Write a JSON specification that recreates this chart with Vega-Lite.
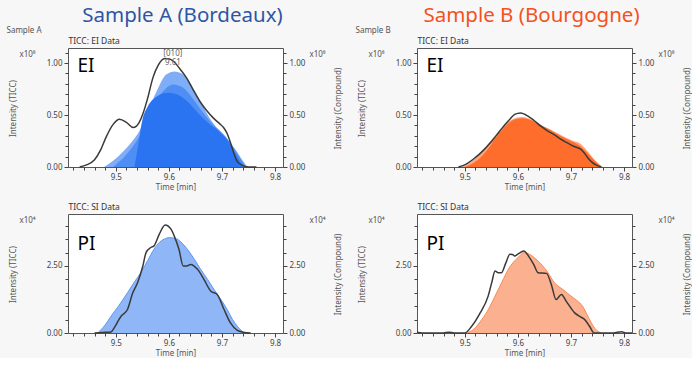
{
  "$schema": "https://vega.github.io/schema/vega-lite/v6.json",
  "background": "#f7f7f7",
  "padding": {"left": 5, "top": 5, "right": 0, "bottom": 0},
  "config": {
    "font": "Noto Sans",
    "view": {"stroke": "#555555", "strokeWidth": 1, "fill": "white"},
    "axis": {"domain": false, "grid": false, "labelFontSize": 8, "labelColor": "#444444", "tickColor": "#444444", "titleFontSize": 8, "titleColor": "#555555", "titleFontWeight": "normal", "labelFont": "Noto Sans", "titleFont": "Noto Sans"},
    "title": {"font": "Noto Sans", "fontWeight": "normal"}
  },
  "columns": 2,
  "spacing": {"row": 47, "column": 134},
  "bounds": "flush",
  "concat": [
    {
      "width": 215, "height": 119,
      "title": {"text": "Sample A (Bordeaux)", "color": "#2f55a5", "fontSize": 20.5, "anchor": "middle", "frame": "group", "dx": 7, "offset": 0},
      "resolve": {"axis": {"x": "independent", "y": "independent"}},
      "data": {"values": [
        {"s":"k","t":9.432,"v":0},{"s":"k","t":9.445,"v":0.02},{"s":"k","t":9.46,"v":0.07},{"s":"k","t":9.472,"v":0.17},{"s":"k","t":9.482,"v":0.29},{"s":"k","t":9.495,"v":0.41},{"s":"k","t":9.507,"v":0.46},{"s":"k","t":9.52,"v":0.43},{"s":"k","t":9.533,"v":0.38},{"s":"k","t":9.543,"v":0.42},{"s":"k","t":9.551,"v":0.51},{"s":"k","t":9.56,"v":0.66},{"s":"k","t":9.57,"v":0.86},{"s":"k","t":9.58,"v":0.98},{"s":"k","t":9.592,"v":1.045},{"s":"k","t":9.601,"v":1.04},{"s":"k","t":9.608,"v":1.02},{"s":"k","t":9.62,"v":0.95},{"s":"k","t":9.633,"v":0.86},{"s":"k","t":9.645,"v":0.75},{"s":"k","t":9.658,"v":0.635},{"s":"k","t":9.67,"v":0.55},{"s":"k","t":9.684,"v":0.47},{"s":"k","t":9.695,"v":0.42},{"s":"k","t":9.703,"v":0.38},{"s":"k","t":9.71,"v":0.32},{"s":"k","t":9.715,"v":0.25},{"s":"k","t":9.722,"v":0.14},{"s":"k","t":9.728,"v":0.06},{"s":"k","t":9.737,"v":0.02},{"s":"k","t":9.75,"v":0},{"s":"k","t":9.765,"v":0},
        {"s":"c1","t":9.478,"v":0},{"s":"c1","t":9.495,"v":0.06},{"s":"c1","t":9.514,"v":0.15},{"s":"c1","t":9.53,"v":0.24},{"s":"c1","t":9.545,"v":0.35},{"s":"c1","t":9.56,"v":0.53},{"s":"c1","t":9.577,"v":0.73},{"s":"c1","t":9.595,"v":0.89},{"s":"c1","t":9.611,"v":0.92},{"s":"c1","t":9.622,"v":0.905},{"s":"c1","t":9.633,"v":0.86},{"s":"c1","t":9.652,"v":0.7},{"s":"c1","t":9.665,"v":0.58},{"s":"c1","t":9.677,"v":0.47},{"s":"c1","t":9.69,"v":0.38},{"s":"c1","t":9.702,"v":0.31},{"s":"c1","t":9.715,"v":0.23},{"s":"c1","t":9.728,"v":0.15},{"s":"c1","t":9.738,"v":0.07},{"s":"c1","t":9.748,"v":0},
        {"s":"c2","t":9.495,"v":0},{"s":"c2","t":9.52,"v":0.12},{"s":"c2","t":9.545,"v":0.3},{"s":"c2","t":9.565,"v":0.52},{"s":"c2","t":9.585,"v":0.7},{"s":"c2","t":9.6,"v":0.78},{"s":"c2","t":9.608,"v":0.795},{"s":"c2","t":9.625,"v":0.77},{"s":"c2","t":9.645,"v":0.66},{"s":"c2","t":9.665,"v":0.52},{"s":"c2","t":9.685,"v":0.4},{"s":"c2","t":9.7,"v":0.33},{"s":"c2","t":9.715,"v":0.24},{"s":"c2","t":9.73,"v":0.12},{"s":"c2","t":9.745,"v":0},
        {"s":"c3","t":9.535,"v":0},{"s":"c3","t":9.542,"v":0.2},{"s":"c3","t":9.55,"v":0.45},{"s":"c3","t":9.56,"v":0.58},{"s":"c3","t":9.575,"v":0.67},{"s":"c3","t":9.59,"v":0.71},{"s":"c3","t":9.6,"v":0.715},{"s":"c3","t":9.615,"v":0.7},{"s":"c3","t":9.635,"v":0.63},{"s":"c3","t":9.655,"v":0.52},{"s":"c3","t":9.675,"v":0.42},{"s":"c3","t":9.695,"v":0.34},{"s":"c3","t":9.71,"v":0.26},{"s":"c3","t":9.725,"v":0.13},{"s":"c3","t":9.74,"v":0}
      ]},
      "layer": [
        {
          "transform": [{"filter": "datum.s == 'c1'"}],
          "mark": {"type": "area", "color": "#80adf7", "interpolate": "monotone"},
          "encoding": {
            "x": {"field": "t", "type": "quantitative", "scale": {"domain": [9.41, 9.815], "nice": false, "zero": false}, "axis": {"orient": "bottom", "values": [9.42,9.44,9.46,9.48,9.5,9.52,9.54,9.56,9.58,9.6,9.62,9.64,9.66,9.68,9.7,9.72,9.74,9.76,9.78,9.8], "labels": false, "tickSize": 3, "title": null}},
            "y": {"field": "v", "type": "quantitative", "scale": {"domain": [0, 1.145], "nice": false}, "axis": {"orient": "right", "values": [0.1,0.2,0.3,0.4,0.6,0.7,0.8,0.9,1.1], "labels": false, "tickSize": 3, "title": "x10⁸", "titleAngle": 0, "titleX": 34, "titleY": 6, "titleAlign": "center", "titleBaseline": "middle"}}
          }
        },
        {
          "transform": [{"filter": "datum.s == 'c2'"}],
          "mark": {"type": "area", "color": "#4f8ff5", "interpolate": "monotone"},
          "encoding": {
            "x": {"field": "t", "type": "quantitative", "scale": {"domain": [9.41, 9.815], "nice": false, "zero": false}, "axis": {"orient": "bottom", "values": [9.5,9.6,9.7,9.8], "format": ".1f", "tickSize": 4, "labelPadding": 2, "title": "Time [min]", "titlePadding": 2}},
            "y": {"field": "v", "type": "quantitative", "scale": {"domain": [0, 1.145], "nice": false}, "axis": {"orient": "right", "values": [0,0.5,1], "format": ".2f", "tickSize": 4, "labelPadding": 2, "title": "Intensity (Compound)", "titleAngle": 270, "titleX": 55, "titleY": 60, "titleAlign": "center", "titleBaseline": "middle"}}
          }
        },
        {
          "transform": [{"filter": "datum.s == 'c3'"}],
          "mark": {"type": "area", "color": "#2a74f2", "interpolate": "monotone"},
          "encoding": {
            "x": {"field": "t", "type": "quantitative", "scale": {"domain": [9.41, 9.815], "nice": false, "zero": false}, "axis": {"orient": "top", "values": [], "ticks": false, "labels": false, "title": "TICC: EI Data", "titleX": 0, "titleY": -3, "titleAlign": "left", "titleBaseline": "bottom", "titleFontSize": 8.5, "titleColor": "#333333"}},
            "y": {"field": "v", "type": "quantitative", "scale": {"domain": [0, 1.145], "nice": false}, "axis": {"orient": "left", "values": [0.1,0.2,0.3,0.4,0.6,0.7,0.8,0.9,1.1], "labels": false, "tickSize": 3, "title": "x10⁸", "titleAngle": 0, "titleX": -41, "titleY": 6, "titleAlign": "center", "titleBaseline": "middle"}}
          }
        },
        {
          "transform": [{"filter": "datum.s == 'k'"}],
          "mark": {"type": "line", "color": "#3a3a3a", "strokeWidth": 1.5, "interpolate": "monotone"},
          "encoding": {
            "x": {"field": "t", "type": "quantitative", "scale": {"domain": [9.41, 9.815], "nice": false, "zero": false}, "axis": {"orient": "top", "values": [], "ticks": false, "labels": false, "title": "Sample A", "titleX": -62, "titleY": -14, "titleAlign": "left", "titleBaseline": "bottom", "titleFontSize": 8, "titleColor": "#555555"}},
            "y": {"field": "v", "type": "quantitative", "scale": {"domain": [0, 1.145], "nice": false}, "axis": {"orient": "left", "values": [0,0.5,1], "format": ".2f", "tickSize": 4, "labelPadding": 2, "title": "Intensity (TICC)", "titleAngle": 270, "titleX": -55, "titleY": 60, "titleAlign": "center", "titleBaseline": "middle"}}
          }
        },
        {
          "data": {"values": [{"t": 9.6075, "v": 1.087, "label": "[010]"}, {"t": 9.6075, "v": 1.0, "label": "9.61"}]},
          "mark": {"type": "text", "fontSize": 8, "color": "#666666"},
          "encoding": {
            "x": {"field": "t", "type": "quantitative", "scale": {"domain": [9.41, 9.815], "nice": false, "zero": false}, "axis": null},
            "y": {"field": "v", "type": "quantitative", "scale": {"domain": [0, 1.145], "nice": false}, "axis": null},
            "text": {"field": "label"}
          }
        },
        {
          "data": {"values": [{"t": 9.428, "v": 0.97, "label": "EI"}]},
          "mark": {"type": "text", "fontSize": 19, "color": "#000000", "align": "left", "baseline": "middle"},
          "encoding": {
            "x": {"field": "t", "type": "quantitative", "scale": {"domain": [9.41, 9.815], "nice": false, "zero": false}, "axis": null},
            "y": {"field": "v", "type": "quantitative", "scale": {"domain": [0, 1.145], "nice": false}, "axis": null},
            "text": {"field": "label"}
          }
        }
      ]
    },
    {
      "width": 215, "height": 119,
      "title": {"text": "Sample B (Bourgogne)", "color": "#f4511e", "fontSize": 20.5, "anchor": "middle", "frame": "group", "dx": 7, "offset": 0},
      "resolve": {"axis": {"x": "independent", "y": "independent"}},
      "data": {"values": [
        {"s":"k","t":9.488,"v":0},{"s":"k","t":9.5,"v":0.02},{"s":"k","t":9.519,"v":0.087},{"s":"k","t":9.535,"v":0.16},{"s":"k","t":9.551,"v":0.25},{"s":"k","t":9.565,"v":0.34},{"s":"k","t":9.576,"v":0.41},{"s":"k","t":9.585,"v":0.46},{"s":"k","t":9.594,"v":0.506},{"s":"k","t":9.605,"v":0.52},{"s":"k","t":9.619,"v":0.49},{"s":"k","t":9.63,"v":0.45},{"s":"k","t":9.644,"v":0.39},{"s":"k","t":9.655,"v":0.35},{"s":"k","t":9.669,"v":0.31},{"s":"k","t":9.68,"v":0.27},{"s":"k","t":9.694,"v":0.23},{"s":"k","t":9.705,"v":0.2},{"s":"k","t":9.719,"v":0.17},{"s":"k","t":9.726,"v":0.13},{"s":"k","t":9.732,"v":0.087},{"s":"k","t":9.74,"v":0.045},{"s":"k","t":9.747,"v":0.02},{"s":"k","t":9.757,"v":0},
        {"s":"c1","t":9.494,"v":0},{"s":"c1","t":9.51,"v":0.04},{"s":"c1","t":9.532,"v":0.15},{"s":"c1","t":9.55,"v":0.26},{"s":"c1","t":9.57,"v":0.38},{"s":"c1","t":9.59,"v":0.46},{"s":"c1","t":9.607,"v":0.48},{"s":"c1","t":9.62,"v":0.47},{"s":"c1","t":9.64,"v":0.41},{"s":"c1","t":9.657,"v":0.37},{"s":"c1","t":9.68,"v":0.31},{"s":"c1","t":9.7,"v":0.26},{"s":"c1","t":9.719,"v":0.22},{"s":"c1","t":9.735,"v":0.13},{"s":"c1","t":9.75,"v":0.04},{"s":"c1","t":9.76,"v":0},
        {"s":"c2","t":9.5,"v":0},{"s":"c2","t":9.52,"v":0.05},{"s":"c2","t":9.54,"v":0.15},{"s":"c2","t":9.56,"v":0.29},{"s":"c2","t":9.58,"v":0.41},{"s":"c2","t":9.595,"v":0.46},{"s":"c2","t":9.61,"v":0.47},{"s":"c2","t":9.625,"v":0.45},{"s":"c2","t":9.645,"v":0.4},{"s":"c2","t":9.66,"v":0.36},{"s":"c2","t":9.68,"v":0.3},{"s":"c2","t":9.7,"v":0.25},{"s":"c2","t":9.715,"v":0.21},{"s":"c2","t":9.73,"v":0.14},{"s":"c2","t":9.745,"v":0.06},{"s":"c2","t":9.758,"v":0}
      ]},
      "layer": [
        {
          "transform": [{"filter": "datum.s == 'c1'"}],
          "mark": {"type": "area", "color": "#ffa77a", "interpolate": "monotone"},
          "encoding": {
            "x": {"field": "t", "type": "quantitative", "scale": {"domain": [9.41, 9.815], "nice": false, "zero": false}, "axis": {"orient": "bottom", "values": [9.42,9.44,9.46,9.48,9.5,9.52,9.54,9.56,9.58,9.6,9.62,9.64,9.66,9.68,9.7,9.72,9.74,9.76,9.78,9.8], "labels": false, "tickSize": 3, "title": null}},
            "y": {"field": "v", "type": "quantitative", "scale": {"domain": [0, 1.145], "nice": false}, "axis": {"orient": "right", "values": [0.1,0.2,0.3,0.4,0.6,0.7,0.8,0.9,1.1], "labels": false, "tickSize": 3, "title": "x10⁸", "titleAngle": 0, "titleX": 34, "titleY": 6, "titleAlign": "center", "titleBaseline": "middle"}}
          }
        },
        {
          "transform": [{"filter": "datum.s == 'c2'"}],
          "mark": {"type": "area", "color": "#ff6d2c", "interpolate": "monotone"},
          "encoding": {
            "x": {"field": "t", "type": "quantitative", "scale": {"domain": [9.41, 9.815], "nice": false, "zero": false}, "axis": {"orient": "bottom", "values": [9.5,9.6,9.7,9.8], "format": ".1f", "tickSize": 4, "labelPadding": 2, "title": "Time [min]", "titlePadding": 2}},
            "y": {"field": "v", "type": "quantitative", "scale": {"domain": [0, 1.145], "nice": false}, "axis": {"orient": "right", "values": [0,0.5,1], "format": ".2f", "tickSize": 4, "labelPadding": 2, "title": "Intensity (Compound)", "titleAngle": 270, "titleX": 55, "titleY": 60, "titleAlign": "center", "titleBaseline": "middle"}}
          }
        },
        {
          "transform": [{"filter": "datum.s == 'k'"}],
          "mark": {"type": "line", "color": "#3a3a3a", "strokeWidth": 1.5, "interpolate": "monotone"},
          "encoding": {
            "x": {"field": "t", "type": "quantitative", "scale": {"domain": [9.41, 9.815], "nice": false, "zero": false}, "axis": {"orient": "top", "values": [], "ticks": false, "labels": false, "title": "TICC: EI Data", "titleX": 0, "titleY": -3, "titleAlign": "left", "titleBaseline": "bottom", "titleFontSize": 8.5, "titleColor": "#333333"}},
            "y": {"field": "v", "type": "quantitative", "scale": {"domain": [0, 1.145], "nice": false}, "axis": {"orient": "left", "values": [0,0.5,1], "format": ".2f", "tickSize": 4, "labelPadding": 2, "title": "Intensity (TICC)", "titleAngle": 270, "titleX": -55, "titleY": 60, "titleAlign": "center", "titleBaseline": "middle"}}
          }
        },
        {
          "data": {"values": [{"t": 9.428, "v": 0.97, "label": "EI"}]},
          "mark": {"type": "text", "fontSize": 19, "color": "#000000", "align": "left", "baseline": "middle"},
          "encoding": {
            "x": {"field": "t", "type": "quantitative", "scale": {"domain": [9.41, 9.815], "nice": false, "zero": false}, "axis": {"orient": "top", "values": [], "ticks": false, "labels": false, "title": "Sample B", "titleX": -62, "titleY": -14, "titleAlign": "left", "titleBaseline": "bottom", "titleFontSize": 8, "titleColor": "#555555"}},
            "y": {"field": "v", "type": "quantitative", "scale": {"domain": [0, 1.145], "nice": false}, "axis": {"orient": "left", "values": [0.1,0.2,0.3,0.4,0.6,0.7,0.8,0.9,1.1], "labels": false, "tickSize": 3, "title": "x10⁸", "titleAngle": 0, "titleX": -41, "titleY": 6, "titleAlign": "center", "titleBaseline": "middle"}},
            "text": {"field": "label"}
          }
        }
      ]
    },
    {
      "width": 215, "height": 119,
      "resolve": {"axis": {"x": "independent", "y": "independent"}},
      "data": {"values": [
        {"s":"k","t":9.46,"v":0},{"s":"k","t":9.475,"v":0.02},{"s":"k","t":9.491,"v":0.04},{"s":"k","t":9.497,"v":0.19},{"s":"k","t":9.503,"v":0.4},{"s":"k","t":9.51,"v":0.625},{"s":"k","t":9.522,"v":0.875},{"s":"k","t":9.532,"v":1.5},{"s":"k","t":9.541,"v":1.875},{"s":"k","t":9.551,"v":2.5},{"s":"k","t":9.557,"v":3.0},{"s":"k","t":9.566,"v":3.19},{"s":"k","t":9.572,"v":3.25},{"s":"k","t":9.582,"v":3.69},{"s":"k","t":9.593,"v":4.03},{"s":"k","t":9.604,"v":3.875},{"s":"k","t":9.61,"v":3.625},{"s":"k","t":9.619,"v":3.125},{"s":"k","t":9.627,"v":2.5},{"s":"k","t":9.634,"v":2.5},{"s":"k","t":9.641,"v":2.56},{"s":"k","t":9.654,"v":2.375},{"s":"k","t":9.666,"v":2.0},{"s":"k","t":9.679,"v":1.56},{"s":"k","t":9.691,"v":1.44},{"s":"k","t":9.704,"v":0.875},{"s":"k","t":9.716,"v":0.375},{"s":"k","t":9.729,"v":0.1},{"s":"k","t":9.74,"v":0.03},{"s":"k","t":9.754,"v":0},
        {"s":"c1","t":9.466,"v":0},{"s":"c1","t":9.48,"v":0.3},{"s":"c1","t":9.491,"v":0.625},{"s":"c1","t":9.505,"v":1.0},{"s":"c1","t":9.522,"v":1.5},{"s":"c1","t":9.535,"v":1.9},{"s":"c1","t":9.547,"v":2.25},{"s":"c1","t":9.56,"v":2.7},{"s":"c1","t":9.572,"v":3.125},{"s":"c1","t":9.582,"v":3.38},{"s":"c1","t":9.591,"v":3.5},{"s":"c1","t":9.601,"v":3.56},{"s":"c1","t":9.616,"v":3.5},{"s":"c1","t":9.625,"v":3.35},{"s":"c1","t":9.635,"v":3.125},{"s":"c1","t":9.648,"v":2.75},{"s":"c1","t":9.66,"v":2.375},{"s":"c1","t":9.673,"v":2.0},{"s":"c1","t":9.685,"v":1.625},{"s":"c1","t":9.698,"v":1.25},{"s":"c1","t":9.71,"v":0.875},{"s":"c1","t":9.72,"v":0.5},{"s":"c1","t":9.729,"v":0.25},{"s":"c1","t":9.742,"v":0}
      ]},
      "layer": [
        {
          "transform": [{"filter": "datum.s == 'c1'"}],
          "mark": {"type": "area", "color": "#8fb7f8", "interpolate": "monotone"},
          "encoding": {
            "x": {"field": "t", "type": "quantitative", "scale": {"domain": [9.41, 9.815], "nice": false, "zero": false}, "axis": {"orient": "bottom", "values": [9.42,9.44,9.46,9.48,9.5,9.52,9.54,9.56,9.58,9.6,9.62,9.64,9.66,9.68,9.7,9.72,9.74,9.76,9.78,9.8], "labels": false, "tickSize": 3, "title": null}},
            "y": {"field": "v", "type": "quantitative", "scale": {"domain": [0, 4.44], "nice": false}, "axis": {"orient": "right", "values": [0.5,1,1.5,2,3,3.5,4], "labels": false, "tickSize": 3, "title": "x10⁴", "titleAngle": 0, "titleX": 34, "titleY": 6, "titleAlign": "center", "titleBaseline": "middle"}}
          }
        },
        {
          "transform": [{"filter": "datum.s == 'c1'"}],
          "mark": {"type": "line", "color": "#5f97f2", "strokeWidth": 1, "interpolate": "monotone"},
          "encoding": {
            "x": {"field": "t", "type": "quantitative", "scale": {"domain": [9.41, 9.815], "nice": false, "zero": false}, "axis": {"orient": "bottom", "values": [9.5,9.6,9.7,9.8], "format": ".1f", "tickSize": 4, "labelPadding": 2, "title": "Time [min]", "titlePadding": 2}},
            "y": {"field": "v", "type": "quantitative", "scale": {"domain": [0, 4.44], "nice": false}, "axis": {"orient": "right", "values": [0,2.5], "format": ".2f", "tickSize": 4, "labelPadding": 2, "title": "Intensity (Compound)", "titleAngle": 270, "titleX": 55, "titleY": 60, "titleAlign": "center", "titleBaseline": "middle"}}
          }
        },
        {
          "transform": [{"filter": "datum.s == 'k'"}],
          "mark": {"type": "line", "color": "#3a3a3a", "strokeWidth": 1.5, "interpolate": "monotone"},
          "encoding": {
            "x": {"field": "t", "type": "quantitative", "scale": {"domain": [9.41, 9.815], "nice": false, "zero": false}, "axis": {"orient": "top", "values": [], "ticks": false, "labels": false, "title": "TICC: SI Data", "titleX": 0, "titleY": -3, "titleAlign": "left", "titleBaseline": "bottom", "titleFontSize": 8.5, "titleColor": "#333333"}},
            "y": {"field": "v", "type": "quantitative", "scale": {"domain": [0, 4.44], "nice": false}, "axis": {"orient": "left", "values": [0,2.5], "format": ".2f", "tickSize": 4, "labelPadding": 2, "title": "Intensity (TICC)", "titleAngle": 270, "titleX": -55, "titleY": 60, "titleAlign": "center", "titleBaseline": "middle"}}
          }
        },
        {
          "data": {"values": [{"t": 9.428, "v": 3.32, "label": "PI"}]},
          "mark": {"type": "text", "fontSize": 19, "color": "#000000", "align": "left", "baseline": "middle"},
          "encoding": {
            "x": {"field": "t", "type": "quantitative", "scale": {"domain": [9.41, 9.815], "nice": false, "zero": false}, "axis": null},
            "y": {"field": "v", "type": "quantitative", "scale": {"domain": [0, 4.44], "nice": false}, "axis": {"orient": "left", "values": [0.5,1,1.5,2,3,3.5,4], "labels": false, "tickSize": 3, "title": "x10⁴", "titleAngle": 0, "titleX": -41, "titleY": 6, "titleAlign": "center", "titleBaseline": "middle"}},
            "text": {"field": "label"}
          }
        }
      ]
    },
    {
      "width": 215, "height": 119,
      "resolve": {"axis": {"x": "independent", "y": "independent"}},
      "data": {"values": [
        {"s":"k","t":9.41,"v":0.03},{"s":"k","t":9.42,"v":0},{"s":"k","t":9.46,"v":0},{"s":"k","t":9.47,"v":0.03},{"s":"k","t":9.48,"v":0},{"s":"k","t":9.5,"v":0},{"s":"k","t":9.513,"v":0.25},{"s":"k","t":9.529,"v":0.75},{"s":"k","t":9.544,"v":1.375},{"s":"k","t":9.551,"v":1.9},{"s":"k","t":9.557,"v":2.31},{"s":"k","t":9.563,"v":2.25},{"s":"k","t":9.569,"v":2.25},{"s":"k","t":9.577,"v":2.6},{"s":"k","t":9.585,"v":2.94},{"s":"k","t":9.59,"v":2.93},{"s":"k","t":9.594,"v":2.875},{"s":"k","t":9.6,"v":2.94},{"s":"k","t":9.611,"v":3.06},{"s":"k","t":9.622,"v":2.81},{"s":"k","t":9.63,"v":2.55},{"s":"k","t":9.638,"v":2.25},{"s":"k","t":9.654,"v":2.225},{"s":"k","t":9.663,"v":1.81},{"s":"k","t":9.672,"v":1.25},{"s":"k","t":9.682,"v":1.44},{"s":"k","t":9.691,"v":1.19},{"s":"k","t":9.707,"v":0.75},{"s":"k","t":9.718,"v":0.6},{"s":"k","t":9.726,"v":0.5},{"s":"k","t":9.735,"v":0.25},{"s":"k","t":9.744,"v":0},{"s":"k","t":9.78,"v":0},{"s":"k","t":9.795,"v":0.05},{"s":"k","t":9.805,"v":0},{"s":"k","t":9.815,"v":0},
        {"s":"c1","t":9.505,"v":0},{"s":"c1","t":9.52,"v":0.2},{"s":"c1","t":9.532,"v":0.5},{"s":"c1","t":9.545,"v":0.9},{"s":"c1","t":9.557,"v":1.375},{"s":"c1","t":9.57,"v":1.9},{"s":"c1","t":9.582,"v":2.375},{"s":"c1","t":9.592,"v":2.65},{"s":"c1","t":9.6,"v":2.81},{"s":"c1","t":9.612,"v":3.0},{"s":"c1","t":9.625,"v":2.9},{"s":"c1","t":9.638,"v":2.69},{"s":"c1","t":9.655,"v":2.3},{"s":"c1","t":9.669,"v":1.875},{"s":"c1","t":9.685,"v":1.62},{"s":"c1","t":9.7,"v":1.38},{"s":"c1","t":9.712,"v":1.2},{"s":"c1","t":9.722,"v":1.0},{"s":"c1","t":9.732,"v":0.62},{"s":"c1","t":9.745,"v":0.17},{"s":"c1","t":9.757,"v":0}
      ]},
      "layer": [
        {
          "transform": [{"filter": "datum.s == 'c1'"}],
          "mark": {"type": "area", "color": "#fbb08f", "interpolate": "monotone"},
          "encoding": {
            "x": {"field": "t", "type": "quantitative", "scale": {"domain": [9.41, 9.815], "nice": false, "zero": false}, "axis": {"orient": "bottom", "values": [9.42,9.44,9.46,9.48,9.5,9.52,9.54,9.56,9.58,9.6,9.62,9.64,9.66,9.68,9.7,9.72,9.74,9.76,9.78,9.8], "labels": false, "tickSize": 3, "title": null}},
            "y": {"field": "v", "type": "quantitative", "scale": {"domain": [0, 4.44], "nice": false}, "axis": {"orient": "right", "values": [0.5,1,1.5,2,3,3.5,4], "labels": false, "tickSize": 3, "title": "x10⁴", "titleAngle": 0, "titleX": 34, "titleY": 6, "titleAlign": "center", "titleBaseline": "middle"}}
          }
        },
        {
          "transform": [{"filter": "datum.s == 'c1'"}],
          "mark": {"type": "line", "color": "#f78a55", "strokeWidth": 1, "interpolate": "monotone"},
          "encoding": {
            "x": {"field": "t", "type": "quantitative", "scale": {"domain": [9.41, 9.815], "nice": false, "zero": false}, "axis": {"orient": "bottom", "values": [9.5,9.6,9.7,9.8], "format": ".1f", "tickSize": 4, "labelPadding": 2, "title": "Time [min]", "titlePadding": 2}},
            "y": {"field": "v", "type": "quantitative", "scale": {"domain": [0, 4.44], "nice": false}, "axis": {"orient": "right", "values": [0,2.5], "format": ".2f", "tickSize": 4, "labelPadding": 2, "title": "Intensity (Compound)", "titleAngle": 270, "titleX": 55, "titleY": 60, "titleAlign": "center", "titleBaseline": "middle"}}
          }
        },
        {
          "transform": [{"filter": "datum.s == 'k'"}],
          "mark": {"type": "line", "color": "#3a3a3a", "strokeWidth": 1.5, "interpolate": "monotone"},
          "encoding": {
            "x": {"field": "t", "type": "quantitative", "scale": {"domain": [9.41, 9.815], "nice": false, "zero": false}, "axis": {"orient": "top", "values": [], "ticks": false, "labels": false, "title": "TICC: SI Data", "titleX": 0, "titleY": -3, "titleAlign": "left", "titleBaseline": "bottom", "titleFontSize": 8.5, "titleColor": "#333333"}},
            "y": {"field": "v", "type": "quantitative", "scale": {"domain": [0, 4.44], "nice": false}, "axis": {"orient": "left", "values": [0,2.5], "format": ".2f", "tickSize": 4, "labelPadding": 2, "title": "Intensity (TICC)", "titleAngle": 270, "titleX": -55, "titleY": 60, "titleAlign": "center", "titleBaseline": "middle"}}
          }
        },
        {
          "data": {"values": [{"t": 9.428, "v": 3.32, "label": "PI"}]},
          "mark": {"type": "text", "fontSize": 19, "color": "#000000", "align": "left", "baseline": "middle"},
          "encoding": {
            "x": {"field": "t", "type": "quantitative", "scale": {"domain": [9.41, 9.815], "nice": false, "zero": false}, "axis": null},
            "y": {"field": "v", "type": "quantitative", "scale": {"domain": [0, 4.44], "nice": false}, "axis": {"orient": "left", "values": [0.5,1,1.5,2,3,3.5,4], "labels": false, "tickSize": 3, "title": "x10⁴", "titleAngle": 0, "titleX": -41, "titleY": 6, "titleAlign": "center", "titleBaseline": "middle"}},
            "text": {"field": "label"}
          }
        }
      ]
    }
  ]
}
